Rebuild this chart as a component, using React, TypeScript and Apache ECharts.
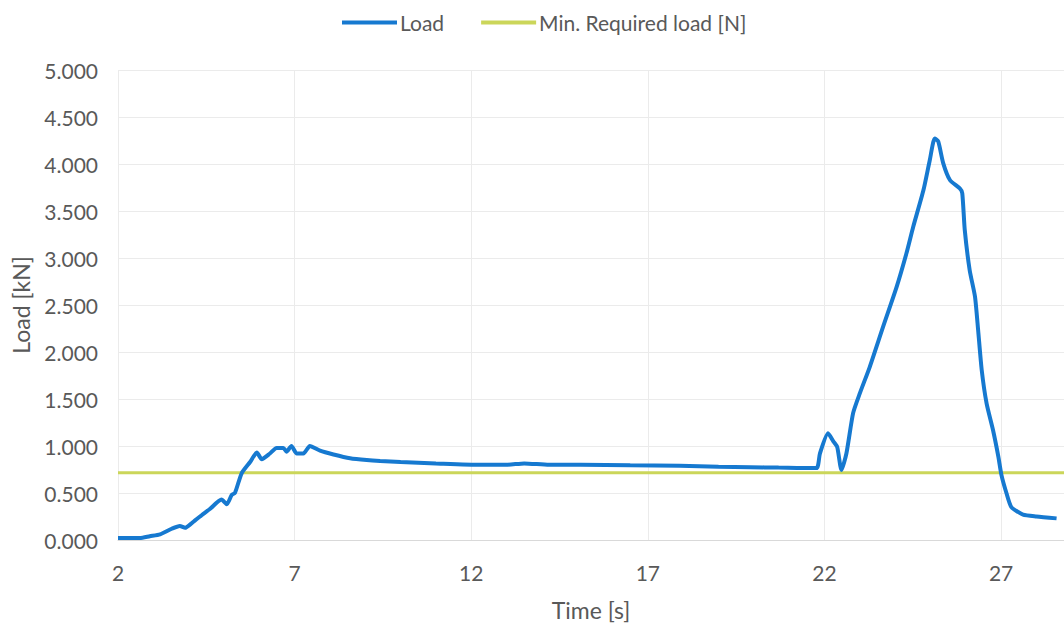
import React, { useEffect, useRef } from "react";
import * as echarts from "echarts";

const timeS: number[] = [
  2.0, 2.3, 2.62, 2.9, 3.19, 3.52, 3.75, 3.9, 4.09, 4.32, 4.6, 4.93, 5.08, 5.22, 5.31, 5.5, 5.74, 5.93,
  6.07, 6.3, 6.49, 6.68, 6.77, 6.91, 7.06, 7.25, 7.43, 7.72, 8.1, 8.57, 9.04, 9.42, 10.0, 11.0, 12.25,
  13.0, 13.5, 14.2, 15.1, 16.5, 17.9, 19.0, 19.9, 20.7, 21.77, 21.87, 22.1, 22.25, 22.36, 22.48, 22.62,
  22.81, 23.0, 23.28, 23.66, 24.04, 24.32, 24.51, 24.8, 24.98, 25.12, 25.22, 25.36, 25.55, 25.83, 25.9,
  25.97, 26.11, 26.26, 26.35, 26.45, 26.59, 26.77, 26.92, 27.01, 27.15, 27.29, 27.62, 28.0, 28.57,
];
const loadKN: number[] = [
  0.02, 0.02, 0.02, 0.04, 0.06, 0.12, 0.15, 0.13, 0.18, 0.25, 0.33, 0.43, 0.38, 0.48, 0.5, 0.71, 0.83, 0.93,
  0.86, 0.92, 0.98, 0.98, 0.94, 1.0, 0.92, 0.92, 1.0, 0.95, 0.91, 0.87, 0.85, 0.84, 0.83, 0.815, 0.8,
  0.8, 0.815, 0.8, 0.8, 0.795, 0.79, 0.78, 0.775, 0.77, 0.765, 0.92, 1.135, 1.05, 0.99, 0.745, 0.92,
  1.35, 1.56, 1.84, 2.27, 2.69, 3.05, 3.33, 3.72, 4.04, 4.27, 4.24, 4.01, 3.83, 3.74, 3.69,
  3.3, 2.87, 2.59, 2.23, 1.81, 1.45, 1.17, 0.89, 0.69, 0.5, 0.35, 0.27, 0.25, 0.23,
];
const minReqTime: number[] = [2.0, 28.78];
const minReqLoad: number[] = [0.715, 0.715];

const seriesNames = ["Load", "Min. Required load [N]"];
const xTitle = "Time [s]";
const yTitle = "Load [kN]";

export default function App() {
  const ref = useRef<HTMLDivElement>(null);
  useEffect(() => {
    if (!ref.current) return;
    const chart = echarts.init(ref.current, undefined, { renderer: "svg" });
    const font = "Lato, 'Noto Sans', sans-serif";
    const grey = "#595959";
    chart.setOption({
      animation: false,
      backgroundColor: "#ffffff",
      textStyle: { fontFamily: font },
      legend: {
        top: 7,
        left: 337,
        icon: "rect",
        itemWidth: 55,
        itemHeight: 4,
        itemGap: 37,
        textStyle: { fontSize: 21, color: grey, fontFamily: font, padding: [0, 0, 0, -2] },
        data: seriesNames,
      },
      grid: { left: 118, right: 0, top: 70, bottom: 87 },
      xAxis: {
        type: "value",
        min: 2,
        max: 28.78,
        interval: 5,
        name: xTitle,
        nameLocation: "middle",
        nameGap: 58,
        nameTextStyle: { fontSize: 23, color: grey, fontFamily: font },
        axisLine: { show: true, lineStyle: { color: "#d9d9d9", width: 1 } },
        axisTick: { show: false },
        axisLabel: { fontSize: 21, color: grey, margin: 22, showMaxLabel: false, fontFamily: font },
        splitLine: { show: true, lineStyle: { color: "#ebebeb", width: 1 } },
      },
      yAxis: {
        type: "value",
        min: 0,
        max: 5,
        interval: 0.5,
        name: yTitle,
        nameLocation: "middle",
        nameGap: 86,
        nameTextStyle: { fontSize: 23, color: grey, fontFamily: font },
        axisLine: { show: false },
        axisTick: { show: false },
        axisLabel: {
          fontSize: 21,
          color: grey,
          margin: 20,
          fontFamily: font,
          formatter: (v: number) => v.toFixed(3),
        },
        splitLine: { show: true, lineStyle: { color: "#ebebeb", width: 1 } },
      },
      series: [
        {
          name: seriesNames[0],
          type: "line",
          data: timeS.map((t, i) => [t, loadKN[i]]),
          showSymbol: false,
          smooth: 0.2,
          lineStyle: { color: "#1679d0", width: 4 },
          itemStyle: { color: "#1679d0" },
          z: 3,
        },
        {
          name: seriesNames[1],
          type: "line",
          data: minReqTime.map((t, i) => [t, minReqLoad[i]]),
          showSymbol: false,
          lineStyle: { color: "#cbd65a", width: 3 },
          itemStyle: { color: "#cbd65a" },
          z: 2,
        },
      ],
    });
    return () => chart.dispose();
  }, []);
  return <div ref={ref} style={{ width: 1064, height: 627, position: "absolute", left: 0, top: 0 }} />;
}
